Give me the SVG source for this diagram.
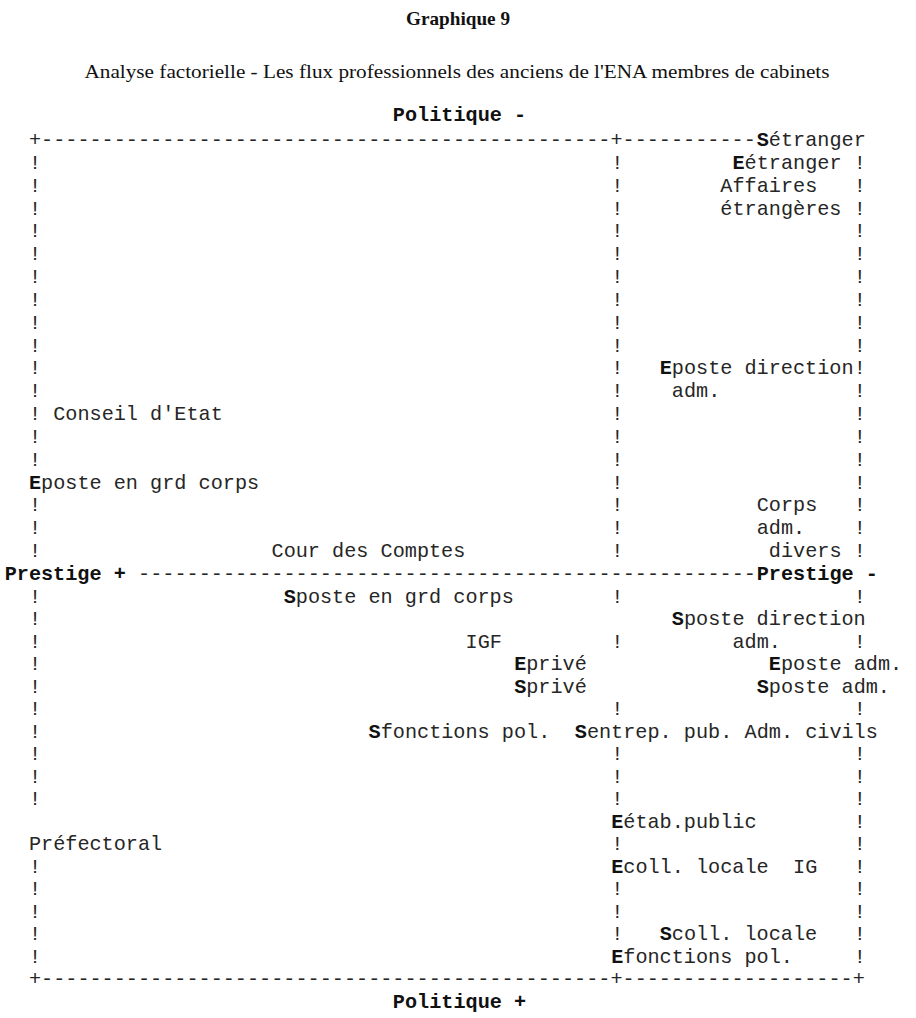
<svg xmlns="http://www.w3.org/2000/svg" width="916" height="1018" viewBox="0 0 916 1018">
<style>
.m{font-family:"Liberation Mono","Courier New",monospace;font-size:20.2px;fill:#262626}
.b{font-weight:bold;fill:#111}
.ti{font-family:"Liberation Serif","Times New Roman",serif;fill:#111}
</style>
<rect width="916" height="1018" fill="#fff"/>
<g id="header">
<text class="ti" x="458" y="25" text-anchor="middle" font-size="19" font-weight="bold" textLength="104" lengthAdjust="spacingAndGlyphs">Graphique 9</text>
<text class="ti" x="457" y="78" text-anchor="middle" font-size="19" textLength="745" lengthAdjust="spacingAndGlyphs">Analyse factorielle - Les flux professionnels des anciens de l'ENA membres de cabinets</text>
</g>
<g id="axis-labels">
<text class="m b" x="392.83" y="121">Politique -</text>
<text class="m b" x="392.83" y="1008">Politique +</text>
<text class="m b" x="4.67" y="580">Prestige +</text>
<text class="m b" x="756.73" y="580">Prestige -</text>
</g>
<g id="connectors" class="m">
<text x="28.93" y="146">+-----------------------------------------------+-----------</text>
<text x="138.1" y="580">---------------------------------------------------</text>
<text x="28.93" y="985">+-----------------------------------------------+-------------------+</text>
<!-- left axis -->
<text x="28.93" y="168.84">!</text><text x="28.93" y="191.68">!</text><text x="28.93" y="214.52">!</text><text x="28.93" y="237.36">!</text>
<text x="28.93" y="260.2">!</text><text x="28.93" y="283.04">!</text><text x="28.93" y="305.88">!</text><text x="28.93" y="328.72">!</text>
<text x="28.93" y="351.56">!</text><text x="28.93" y="374.4">!</text><text x="28.93" y="397.24">!</text><text x="28.93" y="420.08">!</text>
<text x="28.93" y="442.92">!</text><text x="28.93" y="465.76">!</text><text x="28.93" y="511.44">!</text><text x="28.93" y="534.28">!</text>
<text x="28.93" y="557.12">!</text><text x="28.93" y="602.5">!</text><text x="28.93" y="625">!</text><text x="28.93" y="647.5">!</text>
<text x="28.93" y="670">!</text><text x="28.93" y="692.5">!</text><text x="28.93" y="715">!</text><text x="28.93" y="737.5">!</text>
<text x="28.93" y="760">!</text><text x="28.93" y="782.5">!</text><text x="28.93" y="805">!</text><text x="28.93" y="872.5">!</text>
<text x="28.93" y="895">!</text><text x="28.93" y="917.5">!</text><text x="28.93" y="940">!</text><text x="28.93" y="962.5">!</text>
<!-- middle axis -->
<text x="611.17" y="168.84">!</text><text x="611.17" y="191.68">!</text><text x="611.17" y="214.52">!</text><text x="611.17" y="237.36">!</text>
<text x="611.17" y="260.2">!</text><text x="611.17" y="283.04">!</text><text x="611.17" y="305.88">!</text><text x="611.17" y="328.72">!</text>
<text x="611.17" y="351.56">!</text><text x="611.17" y="374.4">!</text><text x="611.17" y="397.24">!</text><text x="611.17" y="420.08">!</text>
<text x="611.17" y="442.92">!</text><text x="611.17" y="465.76">!</text><text x="611.17" y="488.6">!</text><text x="611.17" y="511.44">!</text>
<text x="611.17" y="534.28">!</text><text x="611.17" y="557.12">!</text><text x="611.17" y="602.5">!</text><text x="611.17" y="647.5">!</text>
<text x="611.17" y="715">!</text><text x="611.17" y="760">!</text><text x="611.17" y="782.5">!</text><text x="611.17" y="805">!</text>
<text x="611.17" y="850">!</text><text x="611.17" y="895">!</text><text x="611.17" y="917.5">!</text><text x="611.17" y="940">!</text>
<!-- right axis -->
<text x="853.77" y="168.84">!</text><text x="853.77" y="191.68">!</text><text x="853.77" y="214.52">!</text><text x="853.77" y="237.36">!</text>
<text x="853.77" y="260.2">!</text><text x="853.77" y="283.04">!</text><text x="853.77" y="305.88">!</text><text x="853.77" y="328.72">!</text>
<text x="853.77" y="351.56">!</text><text x="853.77" y="374.4">!</text><text x="853.77" y="397.24">!</text><text x="853.77" y="420.08">!</text>
<text x="853.77" y="442.92">!</text><text x="853.77" y="465.76">!</text><text x="853.77" y="488.6">!</text><text x="853.77" y="511.44">!</text>
<text x="853.77" y="534.28">!</text><text x="853.77" y="557.12">!</text><text x="853.77" y="602.5">!</text><text x="853.77" y="647.5">!</text>
<text x="853.77" y="715">!</text><text x="853.77" y="760">!</text><text x="853.77" y="782.5">!</text><text x="853.77" y="805">!</text>
<text x="853.77" y="827.5">!</text><text x="853.77" y="850">!</text><text x="853.77" y="872.5">!</text><text x="853.77" y="895">!</text>
<text x="853.77" y="917.5">!</text><text x="853.77" y="940">!</text><text x="853.77" y="962.5">!</text>
</g>
<g id="n-s-etranger"><text class="m" x="756.73" y="146"><tspan class="b">S</tspan>étranger</text></g>
<g id="n-e-etranger"><text class="m" x="732.47" y="168.84"><tspan class="b">E</tspan>étranger</text></g>
<g id="n-affaires-etrangeres"><text class="m" x="720.34" y="191.68">Affaires</text><text class="m" x="720.34" y="214.52">étrangères</text></g>
<g id="n-e-poste-direction"><text class="m" x="659.69" y="374.4"><tspan class="b">E</tspan>poste direction</text><text class="m" x="671.82" y="397.24">adm.</text></g>
<g id="n-conseil-etat"><text class="m" x="53.19" y="420.08">Conseil d'Etat</text></g>
<g id="n-e-poste-grd-corps"><text class="m" x="28.93" y="488.6"><tspan class="b">E</tspan>poste en grd corps</text></g>
<g id="n-corps-divers"><text class="m" x="756.73" y="511.44">Corps</text><text class="m" x="756.73" y="534.28">adm.</text><text class="m" x="768.86" y="557.12">divers</text></g>
<g id="n-cour-comptes"><text class="m" x="271.53" y="557.12">Cour des Comptes</text></g>
<g id="n-s-poste-grd-corps"><text class="m" x="283.66" y="602.5"><tspan class="b">S</tspan>poste en grd corps</text></g>
<g id="n-s-poste-direction"><text class="m" x="671.82" y="625"><tspan class="b">S</tspan>poste direction</text><text class="m" x="732.47" y="647.5">adm.</text></g>
<g id="n-igf"><text class="m" x="465.61" y="647.5">IGF</text></g>
<g id="n-e-prive"><text class="m" x="514.13" y="670"><tspan class="b">E</tspan>privé</text></g>
<g id="n-s-prive"><text class="m" x="514.13" y="692.5"><tspan class="b">S</tspan>privé</text></g>
<g id="n-e-poste-adm"><text class="m" x="768.86" y="670"><tspan class="b">E</tspan>poste adm.</text></g>
<g id="n-s-poste-adm"><text class="m" x="756.73" y="692.5"><tspan class="b">S</tspan>poste adm.</text></g>
<g id="n-s-fonctions-pol"><text class="m" x="368.57" y="737.5"><tspan class="b">S</tspan>fonctions pol.</text></g>
<g id="n-s-entrep-pub"><text class="m" x="574.78" y="737.5"><tspan class="b">S</tspan>entrep. pub.</text></g>
<g id="n-adm-civils"><text class="m" x="744.6" y="737.5">Adm. civils</text></g>
<g id="n-e-etab-public"><text class="m" x="611.17" y="827.5"><tspan class="b">E</tspan>étab.public</text></g>
<g id="n-prefectoral"><text class="m" x="28.93" y="850">Préfectoral</text></g>
<g id="n-e-coll-locale"><text class="m" x="611.17" y="872.5"><tspan class="b">E</tspan>coll. locale</text></g>
<g id="n-ig"><text class="m" x="793.12" y="872.5">IG</text></g>
<g id="n-s-coll-locale"><text class="m" x="659.69" y="940"><tspan class="b">S</tspan>coll. locale</text></g>
<g id="n-e-fonctions-pol"><text class="m" x="611.17" y="962.5"><tspan class="b">E</tspan>fonctions pol.</text></g>
</svg>
